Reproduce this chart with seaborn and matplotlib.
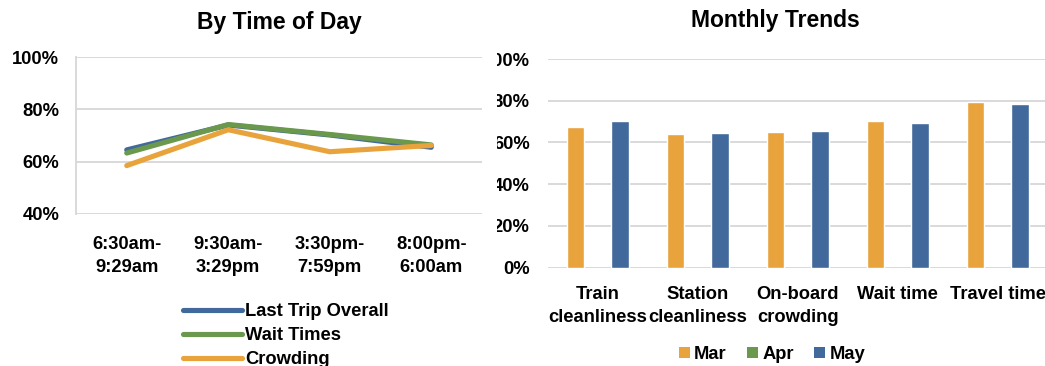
import matplotlib
matplotlib.use("Agg")
import matplotlib.pyplot as plt
from matplotlib.patches import Patch
from matplotlib.lines import Line2D
from matplotlib.transforms import Bbox, TransformedBbox
from matplotlib.ticker import FixedLocator, FuncFormatter
import seaborn as sns
import pandas as pd
import numpy as np

# ---- data -------------------------------------------------------------
periods = ["6:30am-\n9:29am", "9:30am-\n3:29pm", "3:30pm-\n7:59pm", "8:00pm-\n6:00am"]
last_trip_overall = [64.5, 74.0, 70.2, 65.5]
wait_times = [63.3, 74.2, 70.4, 66.4]
crowding = [58.5, 72.2, 63.8, 66.2]
line_series = ["Last Trip Overall", "Wait Times", "Crowding"]

categories = ["Train\ncleanliness", "Station\ncleanliness", "On-board\ncrowding",
              "Wait time", "Travel time"]
months = ["Mar", "Apr", "May"]
mar = [67.3, 64.3, 65.0, 70.1, 79.6]
apr = [np.nan, np.nan, np.nan, np.nan, np.nan]
may = [70.3, 64.7, 65.7, 69.2, 78.3]

# ---- style ------------------------------------------------------------
BLUE = "#41699B"
GREEN = "#6A994D"
ORANGE = "#E8A33D"
GRID = "#D9D9D9"
FS = 13.2

sns.set_theme(style="white")
plt.rcParams["font.family"] = ["Liberation Sans", "DejaVu Sans"]
plt.rcParams["font.weight"] = "bold"
plt.rcParams["text.color"] = "black"
plt.rcParams["xtick.color"] = "black"
plt.rcParams["ytick.color"] = "black"
plt.rcParams["axes.labelcolor"] = "black"
plt.rcParams["axes.titlecolor"] = "black"

W, H = 1045, 366
fig = plt.figure(figsize=(W / 100, H / 100), dpi=100)

def fx(px):
    return px / W

def fy(px):
    return 1 - px / H

# ---- left: by time of day --------------------------------------------
ax1 = fig.add_axes([fx(76), fy(214), fx(482) - fx(76), fy(57) - fy(214)])
line_df = pd.DataFrame({
    "period": periods * 3,
    "value": last_trip_overall + wait_times + crowding,
    "series": [s for s in line_series for _ in periods],
})
line_colors = {"Last Trip Overall": BLUE, "Wait Times": GREEN, "Crowding": ORANGE}
sns.lineplot(data=line_df, x="period", y="value", hue="series", hue_order=line_series,
             palette=line_colors, linewidth=3.7, sort=False, legend=False, ax=ax1,
             solid_capstyle="round", solid_joinstyle="round")
ax1.set_xlim(-0.5, len(periods) - 0.5)
ax1.set_ylim(40, 100)
ax1.yaxis.set_major_locator(FixedLocator([40, 60, 80, 100]))
ax1.yaxis.set_major_formatter(FuncFormatter(lambda v, p: f"{v:.0f}%"))
ax1.grid(axis="y", color=GRID, linewidth=1.4)
ax1.set_axisbelow(True)
for side in ["top", "right", "bottom"]:
    ax1.spines[side].set_visible(False)
ax1.spines["left"].set_color(GRID)
ax1.spines["left"].set_linewidth(1.4)
ax1.set_xlabel("")
ax1.set_ylabel("")
ax1.tick_params(axis="y", length=0, pad=12, labelsize=FS)
ax1.tick_params(axis="x", length=0, pad=16, labelsize=FS)
for t in ax1.get_xticklabels():
    t.set_linespacing(1.45)
ax1.set_title("By Time of Day", fontsize=16.5, fontweight="bold", pad=20)

handles = [Line2D([0], [0], color=line_colors[s], linewidth=3.7, solid_capstyle="round")
           for s in line_series]
fig.legend(handles, line_series, loc="upper left", bbox_to_anchor=(fx(183), fy(303)),
           frameon=False, handlelength=3.2, handletextpad=0.2,
           labelspacing=0.38, borderpad=0, borderaxespad=0,
           prop={"weight": "bold", "size": FS})

# ---- right: monthly trends -------------------------------------------
ax2 = fig.add_axes([fx(547.7), fy(267.7), fx(1047.7) - fx(547.7), fy(59) - fy(267.7)])
bar_df = pd.DataFrame({
    "category": categories * 3,
    "value": mar + apr + may,
    "month": [m for m in months for _ in categories],
})
month_colors = {"Mar": ORANGE, "Apr": GREEN, "May": BLUE}
sns.barplot(data=bar_df, x="category", y="value", hue="month", hue_order=months,
            palette=month_colors, width=0.665, gap=0.22, saturation=1,
            legend=False, ax=ax2)
ax2.set_xlim(-0.5, len(categories) - 0.5)
ax2.set_ylim(0, 100)
ax2.yaxis.set_major_locator(FixedLocator([0, 20, 40, 60, 80, 100]))
ax2.yaxis.set_major_formatter(FuncFormatter(lambda v, p: f"{v:.0f}%"))
ax2.grid(axis="y", color=GRID, linewidth=1.4)
ax2.set_axisbelow(True)
for side in ["top", "right", "bottom", "left"]:
    ax2.spines[side].set_visible(False)
ax2.set_xlabel("")
ax2.set_ylabel("")
ax2.tick_params(axis="y", length=0, pad=13, labelsize=FS)
ax2.tick_params(axis="x", length=0, pad=13, labelsize=FS)
for t in ax2.get_xticklabels():
    t.set_linespacing(1.45)
    t.set_verticalalignment("top")
fig.text(fx(775), fy(21), "Monthly Trends", ha="center", va="center",
         fontsize=16.5, fontweight="bold")

patches = [Patch(facecolor=month_colors[m], edgecolor="none") for m in months]
fig.legend(patches, months, loc="center", bbox_to_anchor=(fx(772), fy(354.5)), ncol=3,
           frameon=False, handlelength=0.6, handleheight=0.6, handletextpad=0.25,
           columnspacing=1.1, borderpad=0, borderaxespad=0,
           prop={"weight": "bold", "size": FS})

# the right panel's value labels are cut off by the panel border
fig.canvas.draw()
clip = TransformedBbox(Bbox([[fx(497), 0], [1, 1]]), fig.transFigure)
for t in ax2.get_yticklabels():
    t.set_clip_box(clip)
    t.set_clip_on(True)

fig.savefig("out.png", dpi=100)
